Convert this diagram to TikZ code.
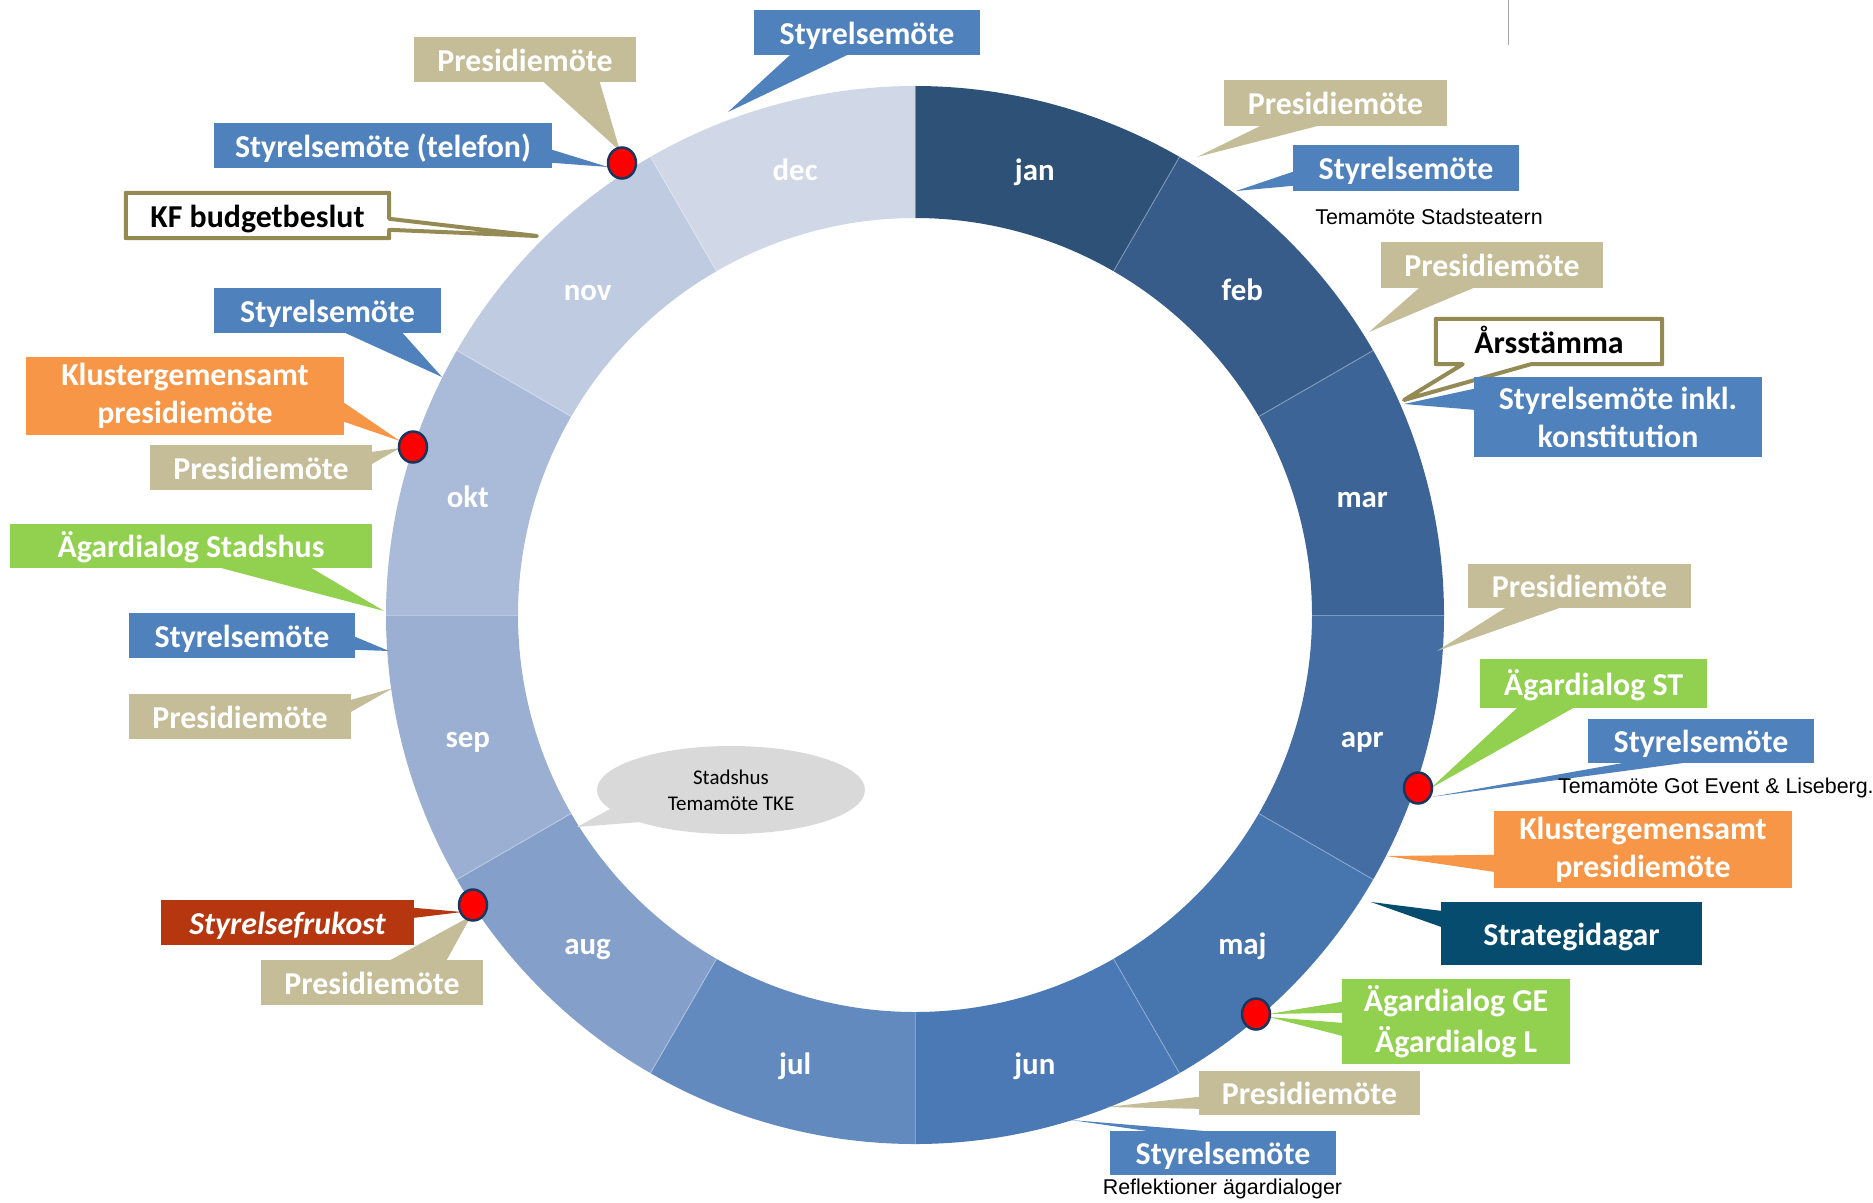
\documentclass[tikz,border=0pt]{standalone}
\usepackage{fontspec}
\setmainfont{Carlito}
\newfontfamily\arialf{Liberation Sans}
\usetikzlibrary{calc,shapes.geometric}
\pgfdeclarelayer{ringlayer}
\pgfdeclarelayer{background}
\pgfsetlayers{ringlayer,background,main}
\definecolor{tanc}{HTML}{C4BD97}
\definecolor{bluec}{HTML}{4F81BD}
\definecolor{orangec}{HTML}{F79646}
\definecolor{greenc}{HTML}{92D050}
\definecolor{redc}{HTML}{B5360F}
\definecolor{tealc}{HTML}{054C6E}
\definecolor{olivec}{HTML}{948A54}
\definecolor{grayc}{HTML}{D9D9D9}
\definecolor{navyc}{HTML}{17375E}
\definecolor{m0}{HTML}{2E5178}
\definecolor{m1}{HTML}{375C89}
\definecolor{m2}{HTML}{3C6497}
\definecolor{m3}{HTML}{436DA3}
\definecolor{m4}{HTML}{4775AE}
\definecolor{m5}{HTML}{4A79B6}
\definecolor{m6}{HTML}{628ABF}
\definecolor{m7}{HTML}{84A0CA}
\definecolor{m8}{HTML}{9AAFD2}
\definecolor{m9}{HTML}{AABAD9}
\definecolor{m10}{HTML}{BFCBE1}
\definecolor{m11}{HTML}{D0D8E7}
\begin{document}
\begin{tikzpicture}[x=1bp,y=-1bp,
  box/.style={inner sep=0pt, minimum height=45bp, text=white, align=center,
    font=\bfseries\fontsize{32}{38}\selectfont},
  one/.style={text height=23.5bp, text depth=0bp},
  tanbox/.style={box, one, fill=tanc},
  bluebox/.style={box, one, fill=bluec},
  greenbox/.style={box, fill=greenc},
  orangebox/.style={box, fill=orangec},
  outbox/.style={box, one, text=black},
  outl/.style={draw=olivec, fill=white, line width=4bp, line join=round},
  month/.style={text=white, font=\bfseries\fontsize{31}{36}\selectfont, text height=25bp, text depth=0bp, inner sep=0pt},
  small/.style={font=\arialf\fontsize{21.5}{25}\selectfont, inner sep=0pt},
  dot/.style={ellipse, fill=red, draw=navyc, line width=2.5bp, minimum width=28bp, minimum height=31bp, inner sep=0pt}
]
\useasboundingbox (0,0) rectangle (1873,1202);
\coordinate (C) at (915,615);

% ring
\begin{pgfonlayer}{ringlayer}
\foreach \i/\lab in {0/jan,1/feb,2/mar,3/apr,4/maj,5/jun,6/jul,7/aug,8/sep,9/okt,10/nov,11/dec}{
  \pgfmathsetmacro\aa{-90+30*\i}
  \pgfmathsetmacro\ab{-60+30*\i}
  \pgfmathsetmacro\am{-75+30*\i}
  \fill[fill=m\i] ($(C)+(\aa:529)$) arc[start angle=\aa, end angle=\ab, radius=529]
     -- ($(C)+(\ab:397)$) arc[start angle=\ab, end angle=\aa, radius=397] -- cycle;
  \node[month] (mon\i) at ($(C)+(\am:463)$) {\lab};
}
\foreach \i in {0,...,11}{
  \draw[white, opacity=.3, line width=1bp] ($(C)+(-90+30*\i:397)$) -- ($(C)+(-90+30*\i:529)$);
}
\end{pgfonlayer}

% top-right thin line
\draw[gray!70, line width=1bp] (1508,0) -- (1508,45);

% tips
\coordinate (tpT) at (620,151);
\coordinate (tsTel) at (608,167);
\coordinate (tkf) at (537,236);
\coordinate (tsNov) at (442,377);
\coordinate (tkOkt) at (400,441);
\coordinate (tpOkt) at (400,448);
\coordinate (taStad) at (384,611);
\coordinate (tsSep) at (389,651);
\coordinate (tpSep) at (393,688);
\coordinate (tell) at (577,827);
\coordinate (tsFru) at (462,912);
\coordinate (tpAug) at (471,916);
\coordinate (tsTop) at (728,112);
\coordinate (tpJan) at (1197,157);
\coordinate (tsFeb) at (1236,191);
\coordinate (tpFeb) at (1369,332);
\coordinate (tars) at (1404,400);
\coordinate (tsMar) at (1404,404);
\coordinate (tpApr) at (1437,651);
\coordinate (taST) at (1431,788);
\coordinate (tsApr) at (1431,797);
\coordinate (tkApr) at (1386,856);
\coordinate (tstrat) at (1371,902);
\coordinate (taGE1) at (1269,1014);
\coordinate (taGE2) at (1269,1017);
\coordinate (tpJun) at (1107,1107);
\coordinate (tsJun) at (1071,1120);

% ---- left side
\node[tanbox, minimum width=222bp] (pT) at (525,59.5) {Presidiemöte};
\fill[tanc] ($(pT.south west)+(130,0)$) -- (tpT) -- ($(pT.south west)+(186,0)$) -- cycle;

\node[bluebox, minimum width=338bp] (sTel) at (383,145.5) {Styrelsemöte (telefon)};
\fill[bluec] ($(sTel.north east)+(0,27)$) -- (tsTel) -- ($(sTel.north east)+(0,40)$) -- cycle;

\node[outbox, minimum width=263bp] (kf) at (257.5,215.5) {KF budgetbeslut};
\begin{pgfonlayer}{background}
\draw[outl] (kf.north west) -- (kf.north east) -- ($(kf.north east)+(0,26)$) -- (tkf)
  -- ($(kf.north east)+(0,37)$) -- (kf.south east) -- (kf.south west) -- cycle;
\end{pgfonlayer}

\node[bluebox, minimum width=227bp] (sNov) at (327.5,310.5) {Styrelsemöte};
\fill[bluec] ($(sNov.south west)+(132,0)$) -- (tsNov) -- ($(sNov.south west)+(189,0)$) -- cycle;

\node[orangebox, minimum width=318bp, minimum height=78bp] (kOkt) at (185,396) {Klustergemensamt\\presidiemöte};
\fill[orangec] ($(kOkt.north east)+(0,46)$) -- (tkOkt) -- ($(kOkt.north east)+(0,65)$) -- cycle;

\node[tanbox, minimum width=222bp] (pOkt) at (261,467.5) {Presidiemöte};
\fill[tanc] ($(pOkt.north east)+(0,7)$) -- (tpOkt) -- ($(pOkt.north east)+(0,19)$) -- cycle;

\node[greenbox, one, minimum width=362bp, minimum height=44bp] (aStad) at (191,546) {Ägardialog Stadshus};
\fill[greenc] ($(aStad.south west)+(212,0)$) -- (taStad) -- ($(aStad.south west)+(302,0)$) -- cycle;

\node[bluebox, minimum width=226bp] (sSep) at (242,635.5) {Styrelsemöte};
\fill[bluec] ($(sSep.north east)+(0,24)$) -- (tsSep) -- ($(sSep.north east)+(0,37)$) -- cycle;

\node[tanbox, minimum width=222bp] (pSep) at (240,716.5) {Presidiemöte};
\fill[tanc] ($(pSep.north east)+(0,6)$) -- (tpSep) -- ($(pSep.north east)+(0,18)$) -- cycle;

\node[ellipse, fill=grayc, minimum width=268bp, minimum height=88bp, inner sep=0pt, align=center,
  font=\fontsize{21}{26}\selectfont] (ell) at (731,790) {Stadshus\\Temamöte TKE};
\fill[grayc] ($(ell.center)+(-121,19)$) -- (tell) -- ($(ell.center)+(-90,32)$) -- cycle;

\node[box, one, fill=redc, minimum width=253bp, font=\bfseries\itshape\fontsize{32}{38}\selectfont] (sFru) at (287.5,922.5) {Styrelsefrukost};
\fill[redc] ($(sFru.north east)+(0,8)$) -- (tsFru) -- ($(sFru.north east)+(0,18)$) -- cycle;

\node[tanbox, minimum width=222bp] (pAug) at (372,982.5) {Presidiemöte};
\fill[tanc] ($(pAug.north west)+(130,0)$) -- (tpAug) -- ($(pAug.north west)+(186,0)$) -- cycle;

% ---- right side
\node[bluebox, minimum width=226bp] (sTop) at (867,32.5) {Styrelsemöte};
\fill[bluec] ($(sTop.south west)+(36,0)$) -- (tsTop) -- ($(sTop.south west)+(93,0)$) -- cycle;

\node[tanbox, minimum width=223bp, minimum height=46bp] (pJan) at (1335.5,103) {Presidiemöte};
\fill[tanc] ($(pJan.south west)+(36,0)$) -- (tpJan) -- ($(pJan.south west)+(93,0)$) -- cycle;

\node[bluebox, minimum width=226bp, minimum height=46bp] (sFeb) at (1406,168) {Styrelsemöte};
\fill[bluec] ($(sFeb.north west)+(0,27)$) -- (tsFeb) -- ($(sFeb.north west)+(0,41)$) -- cycle;

\node[small] (tStad) at (1429,217) {Temamöte Stadsteatern};

\node[tanbox, minimum width=222bp, minimum height=46bp] (pFeb) at (1492,265) {Presidiemöte};
\fill[tanc] ($(pFeb.south west)+(38,0)$) -- (tpFeb) -- ($(pFeb.south west)+(92,0)$) -- cycle;

\node[bluebox, minimum width=288bp, minimum height=80bp, text height=, text depth=] (sMar) at (1618,417) {Styrelsemöte inkl.\\konstitution};
\fill[bluec] ($(sMar.north west)+(0,12)$) -- (tsMar) -- ($(sMar.north west)+(0,33)$) -- cycle;

\node[outbox, minimum width=226bp] (ars) at (1549,341.5) {Årsstämma};
\begin{pgfonlayer}{background}
\draw[outl] (ars.north west) -- (ars.north east) -- (ars.south east)
  -- ($(ars.south west)+(95,0)$) -- (tars) -- ($(ars.south west)+(27,0)$) -- (ars.south west) -- cycle;
\end{pgfonlayer}

\node[tanbox, minimum width=223bp, minimum height=44bp] (pApr) at (1579.5,586) {Presidiemöte};
\fill[tanc] ($(pApr.south west)+(37,0)$) -- (tpApr) -- ($(pApr.south west)+(91,0)$) -- cycle;

\node[greenbox, one, minimum width=227bp, minimum height=49bp] (aST) at (1593.5,683.5) {Ägardialog ST};
\fill[greenc] ($(aST.south west)+(37,0)$) -- (taST) -- ($(aST.south west)+(93,0)$) -- cycle;

\node[bluebox, minimum width=226bp, minimum height=44bp] (sApr) at (1701,741) {Styrelsemöte};
\fill[bluec] ($(sApr.south west)+(34,0)$) -- (tsApr) -- ($(sApr.south west)+(94,0)$) -- cycle;

\node[small, anchor=west] (tGot) at (1558,788) {Temamöte Got Event \& Liseberg.};

\node[orangebox, minimum width=298bp, minimum height=77bp] (kApr) at (1643,849.5) {Klustergemensamt\\presidiemöte};
\fill[orangec] ($(kApr.north west)+(0,44)$) -- (tkApr) -- ($(kApr.north west)+(0,61)$) -- cycle;

\node[box, one, fill=tealc, minimum width=261bp, minimum height=63bp] (strat) at (1571.5,933.5) {Strategidagar};
\fill[tealc] ($(strat.north west)+(0,9)$) -- (tstrat) -- ($(strat.north west)+(0,25)$) -- cycle;

\node[greenbox, minimum width=228bp, minimum height=85bp, font=\bfseries\fontsize{32}{41}\selectfont] (aGE) at (1456,1021.5) {Ägardialog GE\\Ägardialog L};
\fill[greenc] ($(aGE.north west)+(0,23)$) -- (taGE1) -- ($(aGE.north west)+(0,34)$) -- cycle;
\fill[greenc] ($(aGE.north west)+(0,44)$) -- (taGE2) -- ($(aGE.north west)+(0,57)$) -- cycle;

\node[tanbox, minimum width=221bp, minimum height=44bp] (pJun) at (1309.5,1093) {Presidiemöte};
\fill[tanc] ($(pJun.north west)+(0,26)$) -- (tpJun) -- ($(pJun.north west)+(0,38)$) -- cycle;

\node[bluebox, minimum width=226bp, minimum height=44bp] (sJun) at (1223,1153) {Styrelsemöte};
\fill[bluec] ($(sJun.north west)+(36,0)$) -- (tsJun) -- ($(sJun.north west)+(93,0)$) -- cycle;

\node[small] (tRef) at (1222.5,1189) {Reflektioner ägardialoger};

% dots
\node[dot] (d1) at (622,163) {};
\node[dot] (d2) at (413,447) {};
\node[dot] (d3) at (473,905) {};
\node[dot] (d4) at (1418,788) {};
\node[dot] (d5) at (1256,1014) {};
\end{tikzpicture}
\end{document}
